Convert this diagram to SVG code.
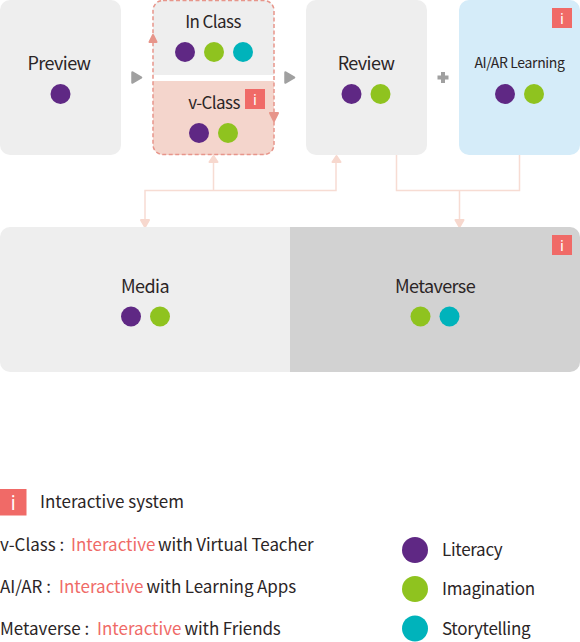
<svg xmlns="http://www.w3.org/2000/svg" width="580" height="642" viewBox="0 0 580 642">
<style>
text{font-family:"Noto Sans CJK KR","Noto Sans","Open Sans",sans-serif;fill:#2b2526}
.t{font-size:18px;text-anchor:middle;letter-spacing:-0.6px}
.m{font-size:17px}
.l{font-size:17px}
.s{font-size:17px;letter-spacing:-0.3px}
.r{fill:#ef6a67}
.q{letter-spacing:-0.1px}
.p{fill:#5f2884}.g{fill:#8fc31f}.c{fill:#00b3bb}
.b{fill:#f06a67}
.it{font-size:15px;fill:#fff;text-anchor:middle;font-family:"Noto Sans",sans-serif}
.w{fill:none;stroke:#f7dcd3;stroke-width:1.5}
.gr{fill:#a0a0a0;stroke:#a0a0a0;stroke-width:2.5;stroke-linejoin:round}
.ah{stroke-width:2;stroke-linejoin:round}
</style>
<defs>
<g id="i"><rect width="20" height="20" class="b"/><text x="10" y="15.500" class="it">i</text></g>
</defs>
<g id="connectors">
<path class="w" d="M145 222V190.500H336V160M213.500 190.500V160"/>
<path class="w" d="M396.500 155V190.500H519.500V155M459.500 190.500V222"/>
<path class="ah" d="M141 220h8l-4 7z M455.500 220h8l-4 7z M209.500 162h8l-4-6zM332.500 162h8l-4-6z" fill="#f7d8ce" stroke="#f7d8ce"/>
<path class="gr" d="M132.500 72.500l8.500 5-8.500 5z M285.500 72.500l8.500 5-8.500 5z"/>
<path d="M441 72h4v3.500h3.500v4h-3.500v3.500h-4v-3.500h-3.500v-4h3.500z" fill="#a0a0a0"/>
</g>
<g id="preview"><rect width="121" height="155" rx="10" fill="#eeeeee"/><text x="59" y="70" class="t">Preview</text><circle cx="60.500" cy="94" r="10" class="p"/></g>
<g id="in-class"><path d="M163 0h101a10 10 0 0 1 10 10V75H153V10a10 10 0 0 1 10-10z" fill="#eeeeee"/><text x="213" y="27.500" class="t m">In Class</text><circle cx="185" cy="52" r="10" class="p"/><circle cx="214" cy="52" r="10" class="g"/><circle cx="243" cy="52" r="10" class="c"/></g>
<g id="v-class"><path d="M153 81H274V145a10 10 0 0 1-10 10H163a10 10 0 0 1-10-10z" fill="#f4d5cc"/><text x="214" y="108.500" class="t m">v-Class</text><use href="#i" x="245" y="89"/><circle cx="199" cy="133" r="10" class="p"/><circle cx="228" cy="133" r="10" class="g"/></g>
<g id="class-border"><rect x="153" y="0.500" width="121" height="154" rx="10" fill="none" stroke="#e7958a" stroke-width="1.500" stroke-dasharray="4 2.500"/><path class="ah" d="M149.500 42h7l-3.500-7z" fill="#e7958a" stroke="#e7958a"/><path class="ah" d="M270 113h8l-4 8z" fill="#e7958a" stroke="#e7958a"/></g>
<g id="review"><rect x="306" width="121" height="155" rx="10" fill="#eeeeee"/><text x="366" y="70" class="t">Review</text><circle cx="351.500" cy="94" r="10" class="p"/><circle cx="380.500" cy="94" r="10" class="g"/></g>
<g id="ai-ar"><rect x="459" width="121" height="155" rx="10" fill="#d5ecf9"/><text x="519.500" y="67.500" class="t" style="font-size:14px;letter-spacing:-.35px">AI/AR Learning</text><use href="#i" x="552" y="8"/><circle cx="505" cy="94" r="10" class="p"/><circle cx="534" cy="94" r="10" class="g"/></g>
<g id="media"><path d="M10 227H290V372H10a10 10 0 0 1-10-10V237a10 10 0 0 1 10-10z" fill="#eeeeee"/><text x="145" y="293" class="t">Media</text><circle cx="131" cy="316.500" r="10" class="p"/><circle cx="160" cy="316.500" r="10" class="g"/></g>
<g id="metaverse"><path d="M290 227H570a10 10 0 0 1 10 10V362a10 10 0 0 1-10 10H290z" fill="#d2d2d2"/><text x="435" y="293" class="t">Metaverse</text><use href="#i" x="552" y="235"/><circle cx="420.500" cy="316.500" r="10" class="g"/><circle cx="449.500" cy="316.500" r="10" class="c"/></g>
<g id="legend">
<rect y="489" width="26.500" height="26.500" class="b"/><text x="13.200" y="510" class="it" style="font-size:19px">i</text>
<text x="40" y="508" class="l">Interactive system</text>
<text x="0" y="551" class="l">v-Class : <tspan x="71" class="r">Interactive</tspan> <tspan x="158" class="q">with Virtual Teacher</tspan></text>
<text x="0" y="593" class="l">AI/AR : <tspan x="59" class="r">Interactive</tspan> <tspan x="146.500" class="q">with Learning Apps</tspan></text>
<text x="0" y="635" class="l">Metaverse : <tspan x="97" class="r">Interactive</tspan> <tspan x="184.500" class="q">with Friends</tspan></text>
<circle cx="415" cy="550" r="13" class="p"/><text x="442" y="556" class="s">Literacy</text>
<circle cx="415" cy="589" r="13" class="g"/><text x="442" y="595" class="s">Imagination</text>
<circle cx="415" cy="628.500" r="13" class="c"/><text x="442" y="635" class="s">Storytelling</text>
</g>
</svg>
